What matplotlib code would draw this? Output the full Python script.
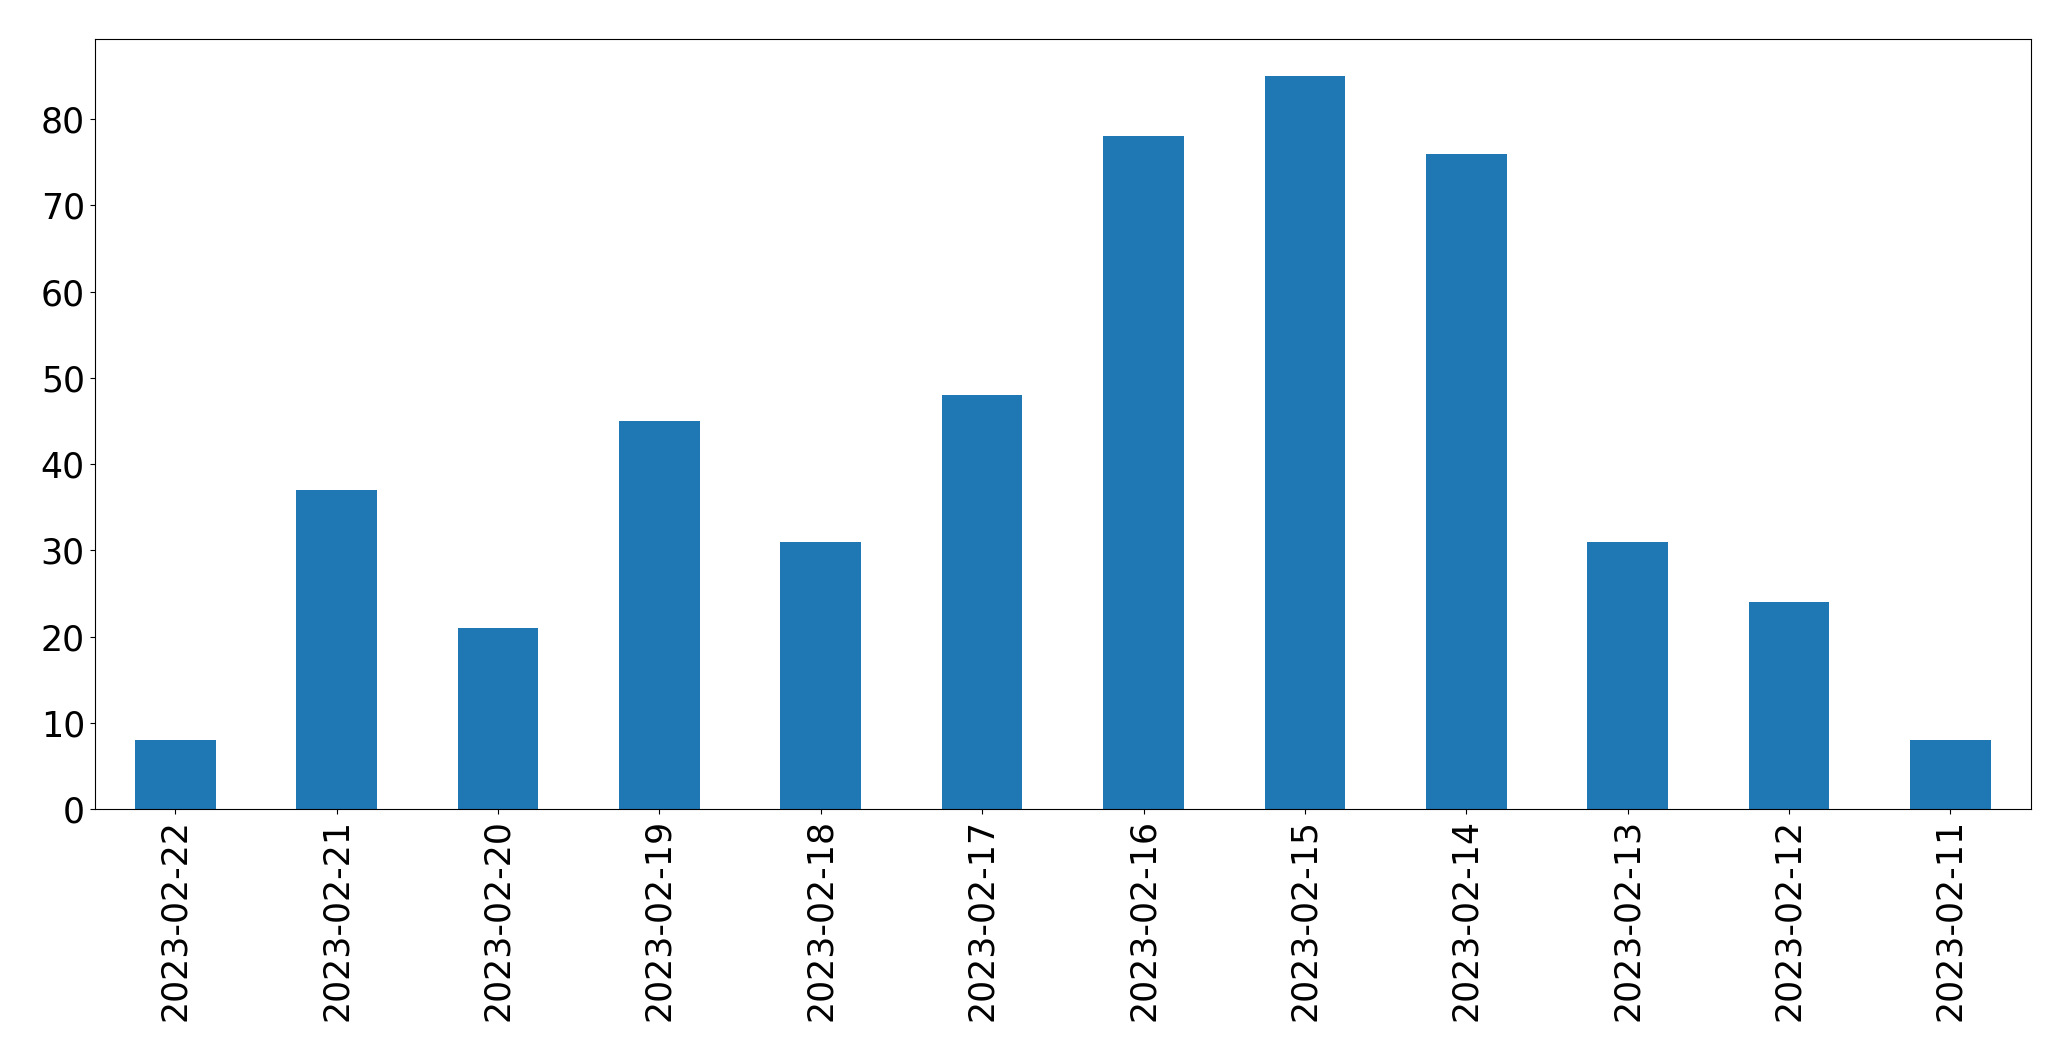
import matplotlib
matplotlib.use('Agg')
import matplotlib.pyplot as plt
import pandas as pd

# %% Data
dates = ['2023-02-22', '2023-02-21', '2023-02-20', '2023-02-19', '2023-02-18', '2023-02-17',
         '2023-02-16', '2023-02-15', '2023-02-14', '2023-02-13', '2023-02-12', '2023-02-11']
counts = [8, 37, 21, 45, 31, 48, 78, 85, 76, 31, 24, 8]

series = pd.Series(counts, index=dates)

# %% Plot
fig = plt.figure(figsize=(20.71, 10.61), dpi=100)
ax = fig.add_axes([0.0457, 0.2375, 0.9350, 0.7255])
series.plot.bar(ax=ax, color='#1f77b4', fontsize=25)
ax.tick_params(axis='x', labelrotation=90)

fig.savefig('out.png', dpi=100)
